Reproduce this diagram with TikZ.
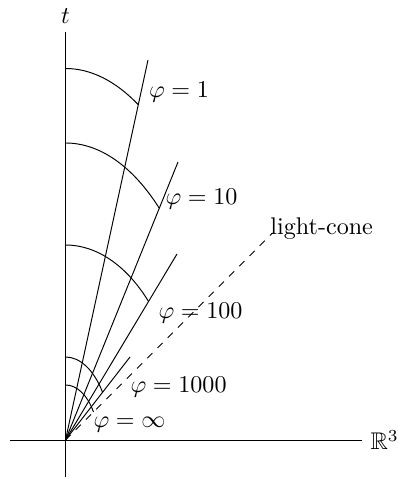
\documentclass[tikz,border=0pt]{standalone}
\usepackage{amsmath,amssymb}
\usetikzlibrary{positioning}

\begin{document}
\begin{tikzpicture}[
  x=4.15pt, y=4.15pt,
  axis/.style={line width=0.4pt, black},
  ray/.style={line width=0.4pt, black},
  cone/.style={line width=0.4pt, black, dashed},
  shell/.style={line width=0.4pt, black},
  lbl/.style={anchor=west, font=\normalsize},
]

% Frame
\useasboundingbox (-6.55,-3.9) rectangle (33.25,44.0);

% Axes
\coordinate (o) at (0,0);
\coordinate (t-top) at (0,40.8);
\coordinate (t-bot) at (0,-3.7);
\coordinate (x-left) at (-5.55,0);
\coordinate (x-right) at (29.65,0);
\draw[axis] (t-bot) -- (t-top) node[above] (t-lbl) {$t$};
\draw[axis] (x-left) -- (x-right) node[right] (x-lbl) {$\mathbb{R}^3$};

% Rays
\coordinate (r1) at (8.25,38.0);
\coordinate (r2) at (11.25,27.8);
\coordinate (r3) at (11.15,18.6);
\coordinate (r4) at (6.45,8.3);
\coordinate (lc) at (20.7,20.7);
\draw[ray] (o) -- (r1);
\draw[ray] (o) -- (r2);
\draw[ray] (o) -- (r3);
\draw[ray] (o) -- (r4);
\draw[cone] (o) -- (lc);

% Level curves
\draw[shell] (0,37.15) arc[start angle=90, end angle=64.5, x radius=16.9, y radius=37.15];
\draw[shell] (0,29.7) arc[start angle=90, end angle=51.3, x radius=15.0, y radius=29.7];
\draw[shell] (0,19.5) arc[start angle=90, end angle=45.3, x radius=11.8, y radius=19.5];
\draw[shell] (0,8.3) arc[start angle=90, end angle=35.1, x radius=4.53, y radius=8.3];
\draw[shell] (0,5.5) arc[start angle=90, end angle=30.6, x radius=3.25, y radius=5.5];

% Labels
\node[lbl] (phi-1) at (7.5,34.8) {$\varphi = 1$};
\node[lbl] (phi-10) at (9.15,24.1) {$\varphi = 10$};
\node[lbl] (phi-100) at (8.45,12.7) {$\varphi = 100$};
\node[lbl] (phi-1000) at (5.65,5.3) {$\varphi = 1000$};
\node[lbl] (phi-inf) at (1.95,1.5) {$\varphi = \infty$};
\node[lbl, inner sep=0pt] (lc-lbl) at (20.45,21.1) {light-cone};

\end{tikzpicture}
\end{document}
